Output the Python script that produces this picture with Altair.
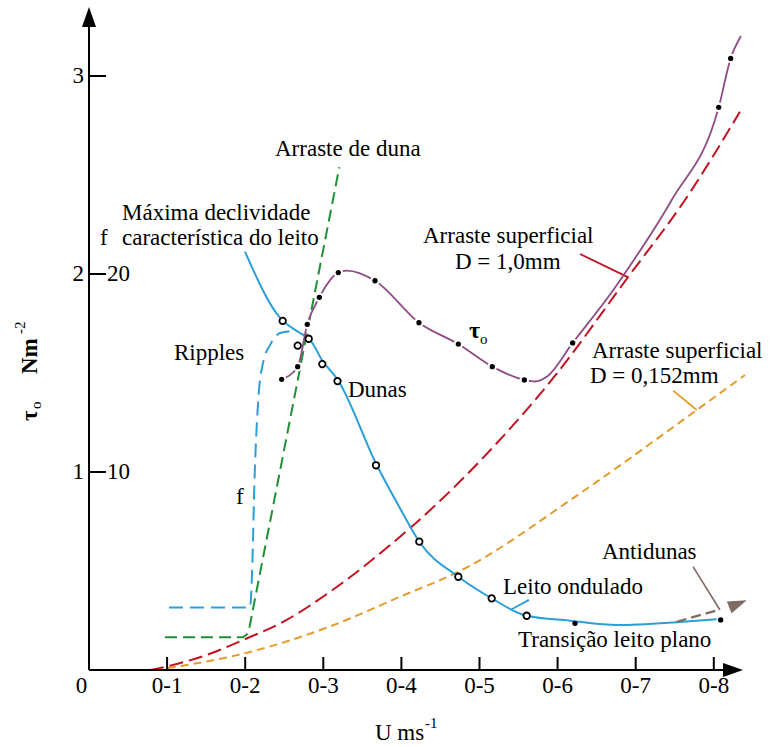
import altair as alt
import pandas as pd

FONT = "Liberation Serif"
OX = 89            # page x of the plot origin (for text placement)
W, H = 684, 670
X_MAX = W / 781.0
Y_MAX = H / 198.0

# ---------------- data ----------------
# tau_o curve (purple) and its measured points
TAU_LINE_U = [0.2467, 0.2672, 0.2795, 0.2949, 0.3192, 0.330, 0.3662, 0.4225, 0.4729, 0.5164,
              0.5574, 0.571, 0.586, 0.6193, 0.6713, 0.6905, 0.7461, 0.8063, 0.8216, 0.8348]
TAU_LINE_T = [1.468, 1.532, 1.746, 1.882, 2.007, 2.017, 1.966, 1.754, 1.646, 1.532,
              1.465, 1.457, 1.481, 1.652, 1.919, 2.029, 2.374, 2.842, 3.089, 3.202]
TAU_DOT_U = [0.2467, 0.2672, 0.2795, 0.2949, 0.3192, 0.3662, 0.4225, 0.4729, 0.5164, 0.5574,
             0.6193, 0.8063, 0.8216]
TAU_DOT_T = [1.468, 1.532, 1.746, 1.882, 2.007, 1.966, 1.754, 1.646, 1.532, 1.465,
             1.652, 2.842, 3.089]

# bed characteristic f (blue solid) and its measured points (open circles)
F_LINE_U = [0.1997, 0.2446, 0.2702, 0.2830, 0.2983, 0.3192, 0.3684, 0.3982, 0.4229, 0.4729,
            0.5156, 0.5604, 0.6159, 0.6757, 0.7606, 0.8037]
F_LINE_T = [2.113, 1.778, 1.702, 1.669, 1.566, 1.461, 1.035, 0.817, 0.648, 0.471,
            0.362, 0.274, 0.249, 0.227, 0.244, 0.256]
F_CIRC_U = [0.2480, 0.2672, 0.2813, 0.2987, 0.3182, 0.3675, 0.4229, 0.4729, 0.5156, 0.5604]
F_CIRC_T = [1.763, 1.638, 1.673, 1.545, 1.459, 1.034, 0.648, 0.471, 0.362, 0.274]
# plane-bed transition points (black dots)
PLANE_U = [0.6223, 0.8088]
PLANE_T = [0.236, 0.253]

# ripples f (blue dashed)
RIP_U = [0.1024, 0.2061, 0.2093, 0.2119, 0.2145, 0.2177, 0.2228, 0.2318, 0.2446, 0.2586]
RIP_T = [0.316, 0.316, 0.556, 0.960, 1.212, 1.414, 1.551, 1.641, 1.702, 1.712]

# dune drag (green dashed)
DUNE_U = [0.0973, 0.1972, 0.2029, 0.2055, 0.3205]
DUNE_T = [0.165, 0.165, 0.182, 0.217, 2.539]

# surface drag D = 1.0 mm (red dashed)
RED_U = [0.0781, 0.1037, 0.1507, 0.1976, 0.2531, 0.3086, 0.3982, 0.4132, 0.5220, 0.5924,
         0.6905, 0.7631, 0.8335]
RED_T = [0.0, 0.022, 0.076, 0.152, 0.253, 0.395, 0.673, 0.724, 1.145, 1.465,
         1.986, 2.374, 2.820]

# surface drag D = 0.152 mm (orange dashed)
ORA_U = [0.0845, 0.2061, 0.3086, 0.3982, 0.4729, 0.6287, 0.7781, 0.8400]
ORA_T = [0.0, 0.091, 0.220, 0.370, 0.496, 0.892, 1.313, 1.490]

# antidunes (brown dashed with arrow)
ANTI_U = [0.7525, 0.8058]
ANTI_T = [0.244, 0.303]
ANTI_HEAD_U = [0.831]
ANTI_HEAD_T = [0.334]

# label leader lines
LEAD_RED_U, LEAD_RED_T = [0.6287, 0.6905], [2.101, 1.983]
LEAD_ORA_U, LEAD_ORA_T = [0.7481, 0.7781], [1.411, 1.313]
LEAD_BLU_U, LEAD_BLU_T = [0.5634, 0.5412], [0.354, 0.307]
LEAD_ANT_U, LEAD_ANT_T = [0.7734, 0.8079], [0.522, 0.303]

# axes / ticks
X_TICKS = [0.1, 0.2, 0.3, 0.4, 0.5, 0.6, 0.7, 0.8]
X_TICK_LABELS = ["0-1", "0-2", "0-3", "0-4", "0-5", "0-6", "0-7", "0-8"]
Y_TICKS = [1, 2, 3]
Y_TICK_LABELS = ["1", "2", "3"]
F_TICKS = [1, 2]
F_TICK_LABELS = ["10", "20"]
X_AXIS_END = 0.82
Y_AXIS_END = 3.30
X_ARROW_U, X_ARROW_T = [0.8246], [0.0]
Y_ARROW_U, Y_ARROW_T = [0.0], [3.298]

# ---------------- helpers ----------------
xs = alt.Scale(domain=[0, X_MAX], nice=False, zero=False)
ys = alt.Scale(domain=[0, Y_MAX], nice=False, zero=False)


def line(u, t, color, dash=None, width=2.0, interp="monotone"):
    df = pd.DataFrame({"u": u, "t": t, "i": list(range(len(u)))})
    kw = dict(color=color, strokeWidth=width, interpolate=interp)
    if dash:
        kw["strokeDash"] = dash
    return alt.Chart(df).mark_line(**kw).encode(
        x=alt.X("u:Q", scale=xs, axis=None),
        y=alt.Y("t:Q", scale=ys, axis=None),
        order=alt.Order("i:Q"),
    )


def pts(u, t, **kw):
    df = pd.DataFrame({"u": u, "t": t})
    return alt.Chart(df).mark_point(**kw).encode(
        x=alt.X("u:Q", scale=xs, axis=None),
        y=alt.Y("t:Q", scale=ys, axis=None),
    )


def texts(items, size=23, align="left", baseline="alphabetic", weight="normal", angle=0):
    df = pd.DataFrame([(s, px - OX, py) for s, px, py in items], columns=["s", "x", "y"])
    return alt.Chart(df).mark_text(
        font=FONT, fontSize=size, align=align, baseline=baseline,
        fontWeight=weight, angle=angle, color="black"
    ).encode(
        x=alt.X("x:Q", scale=None, axis=None),
        y=alt.Y("y:Q", scale=None, axis=None),
        text="s:N",
    )


PURPLE = "#8e4c84"
BLUE = "#2a9fd8"
GREEN = "#1f8f35"
RED = "#c1121f"
ORANGE = "#e59b2c"
BROWN = "#7d6b64"

layers = []

# leader lines
layers.append(line(LEAD_RED_U, LEAD_RED_T, RED, width=1.8, interp="linear"))
layers.append(line(LEAD_ORA_U, LEAD_ORA_T, ORANGE, width=1.8, interp="linear"))
layers.append(line(LEAD_BLU_U, LEAD_BLU_T, BLUE, width=1.8, interp="linear"))
layers.append(line(LEAD_ANT_U, LEAD_ANT_T, BROWN, width=1.6, interp="linear"))

# curves
layers.append(line(ORA_U, ORA_T, ORANGE, dash=[8, 5], width=2.0))
layers.append(line(RED_U, RED_T, RED, dash=[14, 6], width=2.0))
layers.append(line(DUNE_U, DUNE_T, GREEN, dash=[12, 6], width=2.0, interp="linear"))
layers.append(line(RIP_U, RIP_T, BLUE, dash=[14, 7], width=2.0))
layers.append(line(F_LINE_U, F_LINE_T, BLUE, width=2.0))
layers.append(line(ANTI_U, ANTI_T, BROWN, dash=[10, 5], width=2.2, interp="linear"))
layers.append(line(TAU_LINE_U, TAU_LINE_T, PURPLE, width=1.8))

# axes
axes_df = pd.DataFrame({"u": [0, 0], "u2": [X_AXIS_END, 0], "t": [0, 0], "t2": [0, Y_AXIS_END]})
layers.append(alt.Chart(axes_df).mark_rule(color="black", strokeWidth=2).encode(
    x=alt.X("u:Q", scale=xs, axis=None), x2="u2:Q",
    y=alt.Y("t:Q", scale=ys, axis=None), y2="t2:Q"))
layers.append(alt.Chart(pd.DataFrame({"t": Y_TICKS})).mark_rule(color="black", strokeWidth=2).encode(
    y=alt.Y("t:Q", scale=ys, axis=None), x=alt.value(0), x2=alt.value(17)))
layers.append(alt.Chart(pd.DataFrame({"u": X_TICKS})).mark_rule(color="black", strokeWidth=2).encode(
    x=alt.X("u:Q", scale=xs, axis=None), y=alt.value(H), y2=alt.value(H - 13)))
layers.append(pts(Y_ARROW_U, Y_ARROW_T, shape="M0,-1L0.7,1L-0.7,1Z", size=400,
                  filled=True, color="black", opacity=1, strokeWidth=0))
layers.append(pts(X_ARROW_U, X_ARROW_T, shape="M1,0L-1,0.7L-1,-0.7Z", size=400,
                  filled=True, color="black", opacity=1, strokeWidth=0))
layers.append(pts(ANTI_HEAD_U, ANTI_HEAD_T, shape="M1,0L-1,0.66L-1,-0.66Z", size=361,
                  filled=True, color=BROWN, opacity=1, strokeWidth=0, angle=338))

# markers
layers.append(pts(TAU_DOT_U, TAU_DOT_T, shape="circle", size=90, filled=True,
                  color="white", opacity=1, strokeWidth=0))
layers.append(pts(TAU_DOT_U + PLANE_U, TAU_DOT_T + PLANE_T, shape="circle", size=28,
                  filled=True, color="black", opacity=1, strokeWidth=0))
layers.append(pts(F_CIRC_U, F_CIRC_T, shape="circle", size=42, filled=False,
                  stroke="black", fill="white", fillOpacity=1, opacity=1, strokeWidth=1.8))

# tick labels
layers.append(alt.Chart(pd.DataFrame({"t": Y_TICKS, "s": Y_TICK_LABELS})).mark_text(
    font=FONT, fontSize=23, align="right", baseline="middle", color="black").encode(
    y=alt.Y("t:Q", scale=ys, axis=None), x=alt.value(-5), text="s:N"))
layers.append(alt.Chart(pd.DataFrame({"t": F_TICKS, "s": F_TICK_LABELS})).mark_text(
    font=FONT, fontSize=23, align="left", baseline="middle", color="black").encode(
    y=alt.Y("t:Q", scale=ys, axis=None), x=alt.value(18), text="s:N"))
layers.append(alt.Chart(pd.DataFrame({"u": X_TICKS, "s": X_TICK_LABELS})).mark_text(
    font=FONT, fontSize=23, align="center", baseline="middle", color="black").encode(
    x=alt.X("u:Q", scale=xs, axis=None), y=alt.value(686), text="s:N"))
layers.append(texts([("0", 81.5, 686)], align="center", baseline="middle"))

# annotations
layers.append(texts([
    ("Arraste de duna", 275, 156),
    ("Máxima declividade", 122, 220),
    ("f", 100, 245),
    ("característica do leito", 122, 245),
    ("Ripples", 174, 360),
    ("Dunas", 348, 397),
    ("Arraste superficial", 423, 243),
    ("D = 1,0mm", 455, 269),
    ("Arraste superficial", 592, 358),
    ("D = 0,152mm", 590, 383),
    ("Leito ondulado", 503, 594),
    ("Transição leito plano", 518, 647),
    ("Antidunas", 602, 559),
    ("f", 236, 504),
    ("U ms", 375, 740),
]))
layers.append(texts([("-1", 425, 728), ("o", 480, 344)], size=15))
layers.append(texts([("τ", 469, 338)], size=24, weight="bold"))

# y-axis title (rotated)
layers.append(texts([("τ", 37, 421), ("Nm", 37, 374)], size=23, weight="bold", angle=270))
layers.append(texts([("o", 41, 409), ("-2", 25, 334)], size=15, angle=270))

chart = alt.layer(*layers).properties(
    width=W, height=H,
    autosize="none",
    padding={"left": OX, "top": 0, "right": 0, "bottom": 77},
    background="white",
).configure_view(stroke=None)

chart.save("out.html", embed_options={"renderer": "svg", "actions": False})
